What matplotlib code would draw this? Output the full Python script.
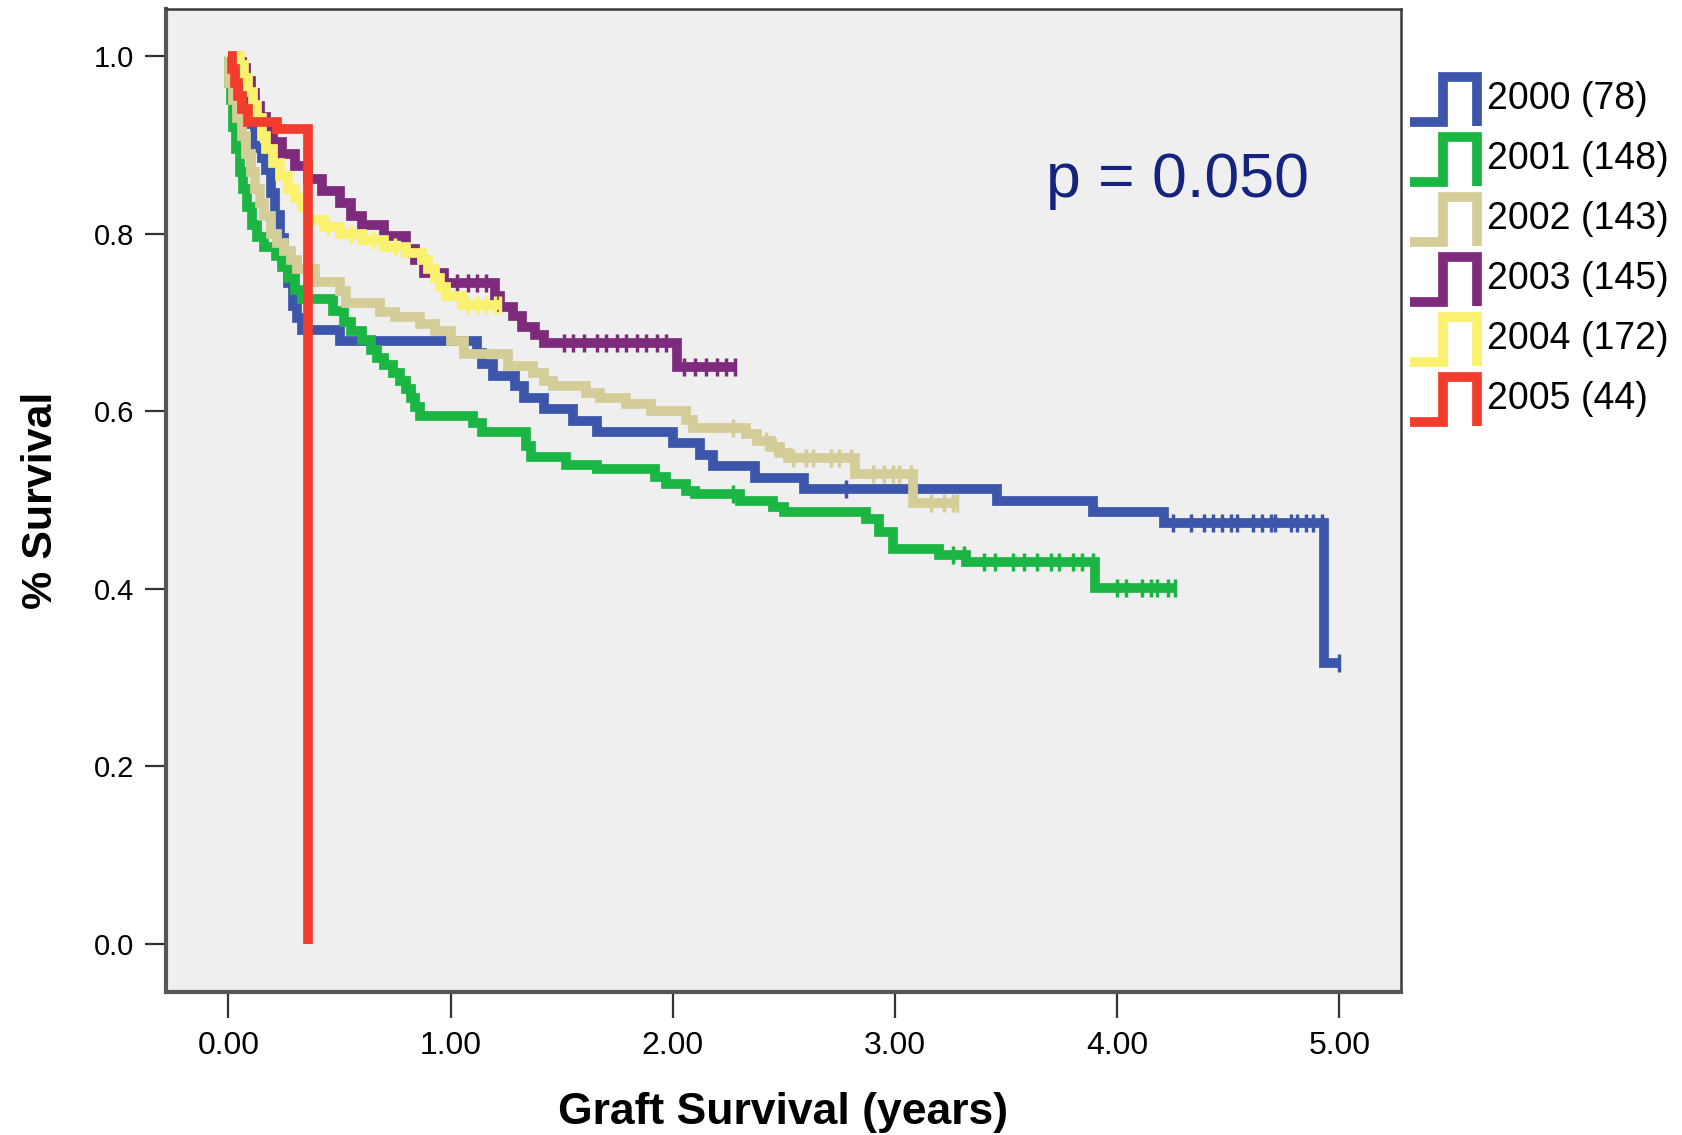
import numpy as np
import matplotlib
matplotlib.use("Agg")
import matplotlib.pyplot as plt

# ---- Kaplan-Meier step data (years, survival) ----
years = ["2000", "2001", "2002", "2003", "2004", "2005"]
n_grafts = [78, 148, 143, 145, 172, 44]

t_2000 = [0, 0.02, 0.04, 0.06, 0.08, 0.10, 0.12, 0.15, 0.17, 0.19, 0.21, 0.23, 0.25, 0.27,
          0.29, 0.31, 0.33, 0.50, 1.12, 1.14, 1.19, 1.29, 1.33, 1.42, 1.55, 1.66, 2.00, 2.12,
          2.18, 2.37, 2.59, 3.46, 3.89, 4.21, 4.93]
s_2000 = [1.0, 0.987, 0.974, 0.962, 0.949, 0.923, 0.897, 0.885, 0.872, 0.846, 0.821, 0.795,
          0.769, 0.744, 0.718, 0.705, 0.691, 0.679, 0.666, 0.653, 0.640, 0.628, 0.615, 0.602,
          0.589, 0.577, 0.564, 0.551, 0.538, 0.525, 0.512, 0.499, 0.486, 0.474, 0.316]
c_2000 = [2.78, 4.25, 4.33, 4.39, 4.43, 4.47, 4.51, 4.54, 4.61, 4.65, 4.69, 4.71, 4.78,
          4.81, 4.85, 4.88, 4.92, 5.00]

t_2001 = [0, 0.003, 0.01, 0.02, 0.035, 0.05, 0.065, 0.085, 0.105, 0.13, 0.16, 0.215, 0.24,
          0.27, 0.30, 0.33, 0.47, 0.52, 0.55, 0.60, 0.64, 0.67, 0.70, 0.74, 0.77, 0.80, 0.82,
          0.84, 0.86, 1.10, 1.14, 1.34, 1.36, 1.52, 1.66, 1.92, 1.97, 2.06, 2.10, 2.30, 2.45,
          2.50, 2.87, 2.93, 2.99, 3.20, 3.32, 3.90]
s_2001 = [1.0, 0.97, 0.95, 0.92, 0.895, 0.87, 0.85, 0.83, 0.81, 0.796, 0.785, 0.775, 0.762,
          0.75, 0.737, 0.726, 0.713, 0.70, 0.69, 0.68, 0.669, 0.66, 0.652, 0.643, 0.634, 0.625,
          0.615, 0.605, 0.595, 0.587, 0.577, 0.561, 0.548, 0.540, 0.535, 0.526, 0.518, 0.510,
          0.507, 0.499, 0.492, 0.486, 0.479, 0.464, 0.445, 0.438, 0.430, 0.401]
c_2001 = [2.27, 3.26, 3.31, 3.40, 3.45, 3.53, 3.58, 3.64, 3.70, 3.74, 3.80, 3.84, 3.89,
          4.00, 4.04, 4.11, 4.15, 4.18, 4.23, 4.26]

t_2002 = [0, 0.003, 0.02, 0.04, 0.06, 0.08, 0.10, 0.12, 0.14, 0.16, 0.19, 0.22, 0.25, 0.28,
          0.31, 0.39, 0.50, 0.53, 0.68, 0.75, 0.86, 0.93, 1.00, 1.06, 1.26, 1.37, 1.42, 1.46,
          1.61, 1.67, 1.79, 1.90, 2.06, 2.09, 2.33, 2.38, 2.44, 2.48, 2.52, 2.82, 3.08]
s_2002 = [1.0, 0.97, 0.95, 0.93, 0.91, 0.89, 0.87, 0.85, 0.835, 0.82, 0.80, 0.79, 0.78, 0.77,
          0.76, 0.745, 0.735, 0.722, 0.712, 0.706, 0.698, 0.690, 0.679, 0.664, 0.651, 0.643,
          0.634, 0.628, 0.621, 0.615, 0.608, 0.600, 0.590, 0.581, 0.574, 0.567, 0.560, 0.553,
          0.547, 0.529, 0.497]
c_2002 = [2.27, 2.42, 2.46, 2.54, 2.60, 2.63, 2.71, 2.75, 2.80, 2.90, 2.95, 2.99, 3.02,
          3.07, 3.16, 3.22, 3.26, 3.28]

t_2003 = [0, 0.04, 0.06, 0.08, 0.10, 0.12, 0.14, 0.17, 0.20, 0.24, 0.30, 0.36, 0.42, 0.50,
          0.55, 0.60, 0.70, 0.80, 0.84, 0.88, 0.97, 1.20, 1.22, 1.28, 1.32, 1.38, 1.42, 2.02]
s_2003 = [1.0, 0.993, 0.986, 0.972, 0.958, 0.944, 0.931, 0.917, 0.903, 0.890, 0.876, 0.862,
          0.848, 0.834, 0.820, 0.810, 0.797, 0.783, 0.770, 0.756, 0.744, 0.730, 0.717, 0.707,
          0.695, 0.686, 0.677, 0.650]
c_2003 = [1.03, 1.08, 1.12, 1.16, 1.51, 1.55, 1.60, 1.66, 1.70, 1.75, 1.79, 1.84, 1.88,
          1.93, 1.97, 2.05, 2.10, 2.15, 2.20, 2.24, 2.28]

t_2004 = [0, 0.05, 0.07, 0.09, 0.11, 0.13, 0.15, 0.17, 0.20, 0.23, 0.27, 0.30, 0.33, 0.36,
          0.43, 0.50, 0.60, 0.70, 0.80, 0.87, 0.90, 0.93, 0.95, 0.98, 1.05]
s_2004 = [1.0, 0.99, 0.975, 0.96, 0.945, 0.93, 0.91, 0.895, 0.88, 0.865, 0.85, 0.84, 0.83,
          0.815, 0.808, 0.80, 0.793, 0.785, 0.778, 0.77, 0.76, 0.75, 0.74, 0.73, 0.72]
c_2004 = [0.45, 0.55, 0.65, 0.75, 1.08, 1.12, 1.16, 1.20, 1.22]

t_2005 = [0, 0.015, 0.03, 0.045, 0.06, 0.09, 0.22, 0.36]
s_2005 = [1.0, 0.985, 0.97, 0.955, 0.94, 0.926, 0.918, 0.0]
c_2005 = []

x_ticks = [0, 1, 2, 3, 4, 5]
x_labels = ["0.00", "1.00", "2.00", "3.00", "4.00", "5.00"]
y_ticks = [0.0, 0.2, 0.4, 0.6, 0.8, 1.0]
y_labels = ["0.0", "0.2", "0.4", "0.6", "0.8", "1.0"]
p_text = "p = 0.050"

colors = ["#3b56ab", "#1bb544", "#d4cd98", "#7e2b7d", "#faf26f", "#f23d2e"]

series = [(t_2000, s_2000, c_2000), (t_2001, s_2001, c_2001), (t_2002, s_2002, c_2002),
          (t_2003, s_2003, c_2003), (t_2004, s_2004, c_2004), (t_2005, s_2005, c_2005)]

font = "Liberation Sans"

W, H = 1682, 1135
fig = plt.figure(figsize=(W / 100, H / 100), dpi=100)
fig.patch.set_facecolor("white")

L, R, T, B = 166, 1401, 9, 992
ax = fig.add_axes([L / W, 1 - B / H, (R - L) / W, (B - T) / H])
ax.set_facecolor("#efefef")
ax.set_xlim(-0.281, 5.277)
ax.set_ylim(-0.054, 1.053)


def km_curve(ax, t, s, cens, color):
    t = np.asarray(t, float)
    s = np.asarray(s, float)
    end = max(t[-1], max(cens) if cens else t[-1])
    tt = np.append(t, end)
    ss = np.append(s, s[-1])
    ax.plot(tt, ss, drawstyle="steps-post", color=color, lw=7,
            solid_joinstyle="miter", solid_capstyle="butt", zorder=3)
    if cens:
        c = np.asarray(cens, float)
        idx = np.searchsorted(t, c, side="right") - 1
        ax.plot(c, s[idx], ls="none", marker="|", ms=13, mew=2.5, color=color, zorder=3)


for (t, s, c), col in zip(series, colors):
    km_curve(ax, t, s, c, col)

ax.set_xticks(x_ticks)
ax.set_xticklabels(x_labels, family=font, fontsize=23)
ax.set_yticks(y_ticks)
ax.set_yticklabels(y_labels, family=font, fontsize=21)
ax.tick_params(axis="x", direction="out", length=19, width=1.6, color="#333333", pad=9)
ax.tick_params(axis="y", direction="out", length=15, width=1.6, color="#333333", pad=8)

for side in ["left", "bottom"]:
    ax.spines[side].set_linewidth(3)
    ax.spines[side].set_color("#555555")
for side in ["top", "right"]:
    ax.spines[side].set_linewidth(1.8)
    ax.spines[side].set_color("#3a3a3a")

ax.set_xlabel("Graft Survival (years)", family=font, fontweight="bold", fontsize=32)
ax.xaxis.set_label_coords(0.5, -0.1225)
ax.xaxis.label.set_verticalalignment("center")
ax.set_ylabel("% Survival", family=font, fontweight="bold", fontsize=31)
ax.yaxis.set_label_coords(-0.1010, 0.5)
ax.yaxis.label.set_verticalalignment("center")

ax.text(3.68, 0.86, p_text, color="#14237d", fontsize=45, family=font,
        ha="left", va="center", zorder=5)

# ---- legend with step glyphs, in figure pixel space ----
lax = fig.add_axes([0, 0, 1, 1])
lax.set_xlim(0, W)
lax.set_ylim(H, 0)
lax.axis("off")
lax.patch.set_alpha(0)
row0, step = 99, 60
for i, (yr, n, col) in enumerate(zip(years, n_grafts, colors)):
    yc = row0 + i * step
    gx = [1410, 1443, 1443, 1477, 1477]
    gy = [yc + 23, yc + 23, yc - 22, yc - 22, yc + 27]
    lax.plot(gx, gy, color=col, lw=7, solid_joinstyle="miter", solid_capstyle="butt")
    lax.text(1487, yc, f"{yr} ({n})", fontsize=27, family=font, color="black",
             ha="left", va="center")

fig.savefig("out.png", dpi=100, facecolor="white")
